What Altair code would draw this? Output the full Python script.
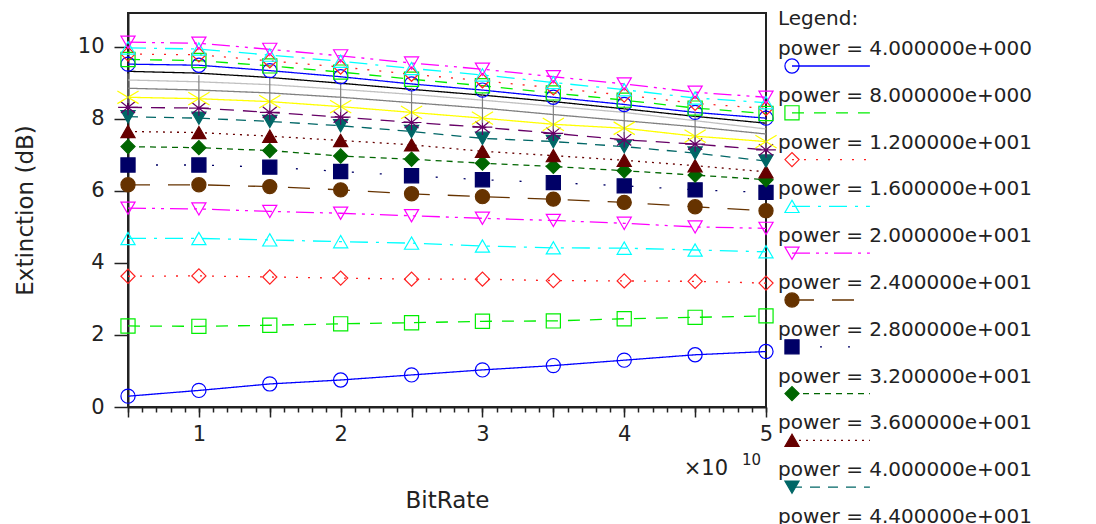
import math
import altair as alt
import pandas as pd

# ---------------- data ----------------
# BitRate in units of 1e10 (the axis carries the "x10^10" multiplier)
BITRATE = [0.5, 1.0, 1.5, 2.0, 2.5, 3.0, 3.5, 4.0, 4.5, 5.0]
POWERS = [4, 8, 12, 16, 20, 24, 28, 32, 36, 40, 44, 48, 52, 56, 60, 64, 68, 72, 76, 80]

E04 = [0.30, 0.46, 0.64, 0.75, 0.89, 1.03, 1.15, 1.30, 1.45, 1.54]
E08 = [2.25, 2.24, 2.27, 2.31, 2.34, 2.38, 2.39, 2.45, 2.49, 2.53]
E12 = [3.63, 3.64, 3.61, 3.58, 3.55, 3.55, 3.51, 3.50, 3.49, 3.44]
E16 = [4.68, 4.68, 4.64, 4.59, 4.55, 4.47, 4.42, 4.41, 4.36, 4.31]
E20 = [5.52, 5.50, 5.43, 5.38, 5.31, 5.24, 5.18, 5.10, 5.00, 4.96]
E24 = [6.17, 6.17, 6.12, 6.03, 5.92, 5.84, 5.77, 5.68, 5.56, 5.45]
E28 = [6.72, 6.72, 6.66, 6.54, 6.42, 6.31, 6.23, 6.14, 6.03, 5.96]
E32 = [7.23, 7.20, 7.12, 6.97, 6.88, 6.77, 6.68, 6.56, 6.44, 6.31]
E36 = [7.65, 7.62, 7.52, 7.40, 7.28, 7.10, 6.98, 6.85, 6.70, 6.53]
E40 = [8.06, 8.02, 7.93, 7.81, 7.65, 7.46, 7.37, 7.23, 7.05, 6.83]
E44 = [8.32, 8.30, 8.18, 8.05, 7.90, 7.77, 7.60, 7.42, 7.30, 7.14]
E48 = [8.60, 8.56, 8.48, 8.34, 8.18, 8.02, 7.85, 7.74, 7.52, 7.37]
E52 = [8.85, 8.80, 8.72, 8.60, 8.45, 8.30, 8.12, 7.95, 7.78, 7.58]
E56 = [9.08, 9.03, 8.95, 8.82, 8.68, 8.52, 8.35, 8.18, 7.95, 7.72]
E60 = [9.32, 9.27, 9.15, 8.99, 8.82, 8.66, 8.48, 8.28, 8.07, 7.88]
E64 = [9.52, 9.49, 9.34, 9.17, 8.97, 8.80, 8.60, 8.40, 8.18, 8.02]
E68 = [9.65, 9.62, 9.47, 9.30, 9.10, 8.92, 8.72, 8.52, 8.30, 8.15]
E72 = [9.80, 9.78, 9.61, 9.44, 9.24, 9.06, 8.86, 8.66, 8.43, 8.29]
E76 = [9.97, 9.94, 9.77, 9.60, 9.40, 9.22, 9.01, 8.81, 8.58, 8.45]
E80 = [10.13, 10.10, 9.93, 9.75, 9.55, 9.38, 9.17, 8.97, 8.74, 8.60]

SERIES = [E04, E08, E12, E16, E20, E24, E28, E32, E36, E40,
          E44, E48, E52, E56, E60, E64, E68, E72, E76, E80]

X_MAJOR = [0.5, 1.0, 1.5, 2.0, 2.5, 3.0, 3.5, 4.0, 4.5, 5.0]
X_MINOR = [k / 10 for k in range(5, 51)]
X_LABELS = {1.0: "1", 2.0: "2", 3.0: "3", 4.0: "4", 5.0: "5"}
Y_TICKS = [k / 2 for k in range(0, 22)]
EXP_BASE = ["\u00d710"]
EXP_POWER = ["10"]
LEGEND_VISIBLE = 11  # legend entries that fit in the window

# ---------------- styles ----------------
ASTERISK = "M-1.4,0L1.4,0M0,-1.1L0,1.1M-1,-0.8L1,0.8M-1,0.8L1,-0.8"
XMARK = "M-1.5,-0.9L1.5,0.9M-1.5,0.9L1.5,-0.9"
VBAR = "M0,-2.1L0,2.1"
NOMARK = "M0,0L0,0"

BASE_COLORS = ["#0000ff", "#00ee00", "#ff2020", "#00ffff", "#ff00ff", "#663300", "#000066",
               "#006600", "#660000", "#006666", "#660066", "#ffff00", "#808080", "#c0c0c0", "#000000"]
BASE_SHAPES = ["circle", "square", "diamond", "triangle-up", "triangle-down", "circle", "square",
               "diamond", "triangle-up", "triangle-down", ASTERISK, XMARK, VBAR, NOMARK, NOMARK]
BASE_FILLED = [False, False, False, False, False, True, True, True, True, True,
               False, False, False, False, False]
BASE_DASH = [[1, 0], [12, 10], [2, 10], [18, 8, 3, 8], [18, 6, 3, 6, 3, 6], [22, 18], [2, 26],
             [6, 5], [2, 5], [10, 8], [14, 9], [1, 0], [1, 0], [1, 0], [1, 0]]

n = len(POWERS)
COLORS = [BASE_COLORS[i % 15] for i in range(n)]
SHAPES = [BASE_SHAPES[i % 15] for i in range(n)]
FILLS = [BASE_COLORS[i % 15] if BASE_FILLED[i % 15] else "transparent" for i in range(n)]
DASHES = [BASE_DASH[i % 15] for i in range(n)]

FONT = "DejaVu Sans"
INK = "#222222"


def sci_label(p):
    e = int(math.floor(math.log10(p)))
    m = p / 10 ** e
    return f"power = {m:.6f}e+{e:03d}"


SERIES_NAMES = [str(p) for p in POWERS]

rows = []
for p, vals in zip(POWERS, SERIES):
    for b, v in zip(BITRATE, vals):
        rows.append({"bitrate": b, "ext": v, "series": str(p)})
df = pd.DataFrame(rows)

leg_df = pd.DataFrame({"row": list(range(LEGEND_VISIBLE)),
                       "series": SERIES_NAMES[:LEGEND_VISIBLE],
                       "label": [sci_label(p) for p in POWERS[:LEGEND_VISIBLE]]})

stroke_enc = alt.Stroke("series:N", scale=alt.Scale(domain=SERIES_NAMES, range=COLORS), legend=None)
fill_enc = alt.Fill("series:N", scale=alt.Scale(domain=SERIES_NAMES, range=FILLS), legend=None)
shape_enc = alt.Shape("series:N", scale=alt.Scale(domain=SERIES_NAMES, range=SHAPES), legend=None)
dash_enc = alt.StrokeDash("series:N", scale=alt.Scale(domain=SERIES_NAMES, range=DASHES), legend=None)

XSCALE = alt.Scale(domain=[0.5, 5], nice=False, zero=False)
YSCALE = alt.Scale(domain=[0, 10.94], nice=False, zero=False)

label_expr = " : ".join(
    [f"abs(datum.value - {v}) < 0.01 ? '{t}'" for v, t in X_LABELS.items()] + ["''"]
)

x_major = alt.X(
    "bitrate:Q", scale=XSCALE,
    axis=alt.Axis(
        orient="bottom", values=X_MAJOR, tickSize=10, labelExpr=label_expr,
        labelPadding=6, labelOverlap=False, labelFlush=False, labelFontSize=21,
        title="BitRate", titleFontSize=23, titleFontWeight="normal",
        titleY=100, titleBaseline="alphabetic", grid=False,
    ),
)
x_minor = alt.X(
    "bitrate:Q", scale=XSCALE,
    axis=alt.Axis(orient="bottom", values=X_MINOR, tickSize=5, labels=False,
                  domain=False, title=None, grid=False),
)
Y_EVEN = "abs(datum.value / 2 - round(datum.value / 2)) < 0.001"
Y_INT = "abs(datum.value - round(datum.value)) < 0.001"
y_enc = alt.Y(
    "ext:Q", scale=YSCALE,
    axis=alt.Axis(
        values=Y_TICKS,
        labelExpr=f"({Y_EVEN}) ? format(round(datum.value), 'd') : ''",
        tickSize={"condition": {"test": Y_INT, "value": 14}, "value": 7},
        labelPadding=10, labelOverlap=False, labelFlush=False, labelFontSize=21,
        title="Extinction (dB)", titleFontSize=23, titleFontWeight="normal",
        titleX=-96, titleY=197, titleAngle=-90, titleAlign="center",
        titleBaseline="alphabetic", grid=False,
    ),
)

base = alt.Chart(df)
minor = base.mark_point(opacity=0).encode(x=x_minor, y="ext:Q")
lines = base.mark_line(strokeWidth=1.3).encode(
    x=x_major, y=y_enc, stroke=stroke_enc, strokeDash=dash_enc, detail="series:N"
)
points = base.mark_point(size=200, strokeWidth=1.2, opacity=1).encode(
    x=alt.X("bitrate:Q", axis=None), y="ext:Q",
    stroke=stroke_enc, fill=fill_enc, shape=shape_enc
)
exp_base = alt.Chart(pd.DataFrame({"t": EXP_BASE})).mark_text(
    align="right", baseline="alphabetic", dx=-38, dy=68, fontSize=21, font=FONT, color=INK
).encode(x=alt.XDatum(5, axis=None), y=alt.YDatum(0), text="t:N")
exp_pow = alt.Chart(pd.DataFrame({"t": EXP_POWER})).mark_text(
    align="right", baseline="alphabetic", dx=-5, dy=58, fontSize=15, font=FONT, color=INK
).encode(x=alt.XDatum(5, axis=None), y=alt.YDatum(0), text="t:N")

main = alt.layer(minor, lines, points, exp_base, exp_pow).resolve_axis(x="independent")

# ---------------- legend panel (own scales, right of the plot) ----------------
LX = alt.Scale(domain=[0, 1], range=[650, 968])
LY = alt.Scale(domain=[0, 10], range=[42, 510])
lbase = alt.Chart(leg_df)
leg_text = lbase.mark_text(align="left", baseline="alphabetic", fontSize=20, font=FONT, color=INK).encode(
    x=alt.XDatum(0, scale=LX, axis=None),
    y=alt.Y("row:Q", scale=LY, axis=None),
    text="label:N",
)
leg_rule = lbase.mark_rule(strokeWidth=1.3, yOffset=11).encode(
    x=alt.XDatum(0.044), x2=alt.X2Datum(0.289), y="row:Q", stroke=stroke_enc, strokeDash=dash_enc
)
leg_pt = lbase.mark_point(size=200, strokeWidth=1.2, opacity=1, yOffset=11).encode(
    x=alt.XDatum(0.044), y="row:Q", stroke=stroke_enc, fill=fill_enc, shape=shape_enc
)
leg_title = alt.Chart(pd.DataFrame({"t": ["Legend:"]})).mark_text(
    align="left", baseline="alphabetic", dy=-30, fontSize=20, font=FONT, color=INK
).encode(x=alt.XDatum(0), y=alt.YDatum(0), text="t:N")

legend = alt.layer(leg_text, leg_rule, leg_pt, leg_title)

chart = (
    alt.layer(main, legend)
    .resolve_scale(x="independent", y="independent")
    .properties(
        width=638, height=394,
        autosize=alt.AutoSizeParams(type="none"),
        padding={"left": 128, "top": 13, "right": 330, "bottom": 117},
        background="white",
    )
    .configure(font=FONT)
    .configure_view(stroke=INK, strokeWidth=2)
    .configure_axis(
        domainColor=INK, domainWidth=2, tickColor=INK, tickWidth=1.5,
        labelColor=INK, titleColor=INK, labelFont=FONT, titleFont=FONT,
    )
)

chart.save("out.html", embed_options={"renderer": "svg", "actions": False})
